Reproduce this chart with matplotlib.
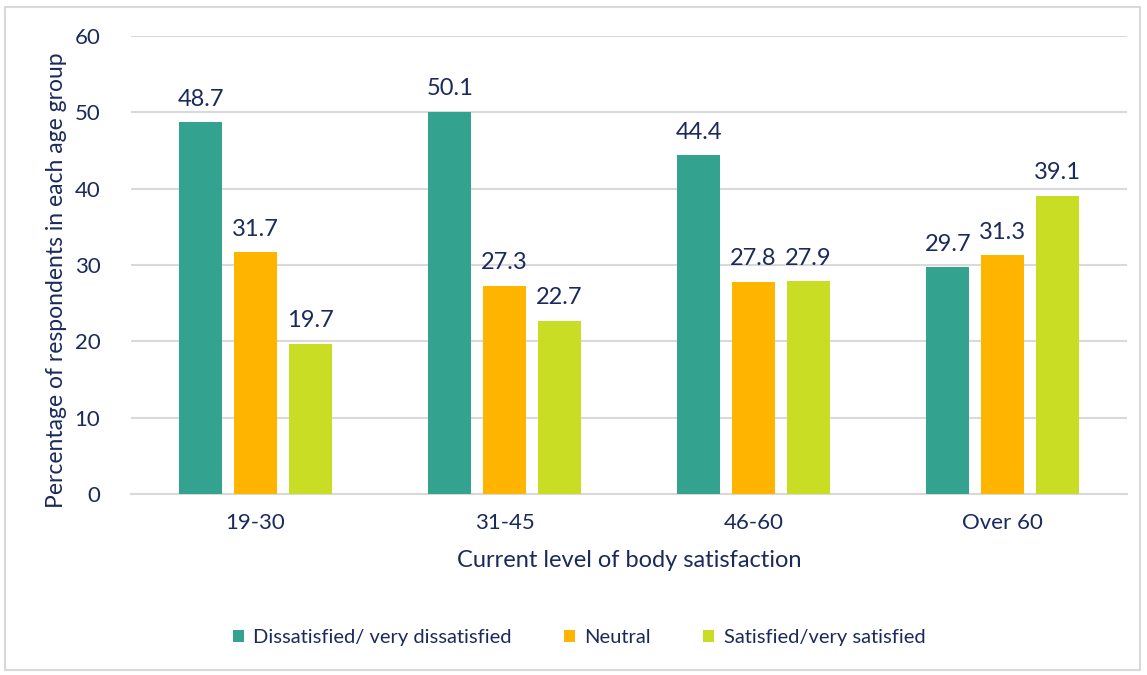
import matplotlib

matplotlib.use("Agg")
import matplotlib.pyplot as plt  # noqa: E402
import numpy as np  # noqa: E402
from matplotlib.patches import Rectangle  # noqa: E402

age_groups = ["19-30", "31-45", "46-60", "Over 60"]
series_names = ["Dissatisfied/ very dissatisfied", "Neutral", "Satisfied/very satisfied"]
dissatisfied = [48.7, 50.1, 44.4, 29.7]
neutral = [31.7, 27.3, 27.8, 31.3]
satisfied = [19.7, 22.7, 27.9, 39.1]
y_ticks = [0, 10, 20, 30, 40, 50, 60]

COLORS = ["#33A38F", "#FFB400", "#C8DD23"]
TEXT = "#1B2A5C"
GRID = "#D9D9D9"

plt.rcParams["font.family"] = ["Lato", "DejaVu Sans"]

fig = plt.figure(figsize=(11.47, 6.75), dpi=100)
ax = fig.add_axes([0.1142, 0.2681, 0.8684, 0.6786])

x = np.arange(len(age_groups))
offsets = [-0.22, 0.0, 0.22]
width = 0.173
for values, name, color, off in zip([dissatisfied, neutral, satisfied], series_names, COLORS, offsets):
    bars = ax.bar(x + off, values, width=width, color=color, label=name, zorder=3)
    ax.bar_label(bars, labels=[f"{v:.1f}" for v in values], padding=9,
                 fontsize=17, color=TEXT)

ax.set_xlim(-0.5, 3.5)
ax.set_ylim(0, 60)
ax.set_yticks(y_ticks)
ax.set_xticks(x)
ax.set_xticklabels(age_groups)
ax.tick_params(axis="both", length=0, labelsize=16, labelcolor=TEXT)
ax.tick_params(axis="y", pad=22)
ax.tick_params(axis="x", pad=14)
ax.grid(axis="y", color=GRID, linewidth=1.5, zorder=0)
for side in ["top", "right", "left"]:
    ax.spines[side].set_visible(False)
ax.spines["bottom"].set_color(GRID)
ax.spines["bottom"].set_linewidth(1.5)

ax.set_ylabel("Percentage of respondents in each age group", fontsize=16.5, color=TEXT)
ax.yaxis.set_label_coords(-0.064, 0.467)
ax.set_xlabel("Current level of body satisfaction", fontsize=17, color=TEXT, labelpad=12)

fig.legend(loc="center", bbox_to_anchor=(0.505, 0.055), ncol=3, frameon=False,
           fontsize=14.5, labelcolor=TEXT, handlelength=0.55, handleheight=0.55,
           handletextpad=0.45, columnspacing=2.6)

fig.add_artist(Rectangle((5 / 1147, 5 / 675), 1135 / 1147, 663 / 675,
                         transform=fig.transFigure, fill=False,
                         edgecolor=GRID, linewidth=1.5))

fig.savefig("out.png", dpi=100)
plt.close(fig)
